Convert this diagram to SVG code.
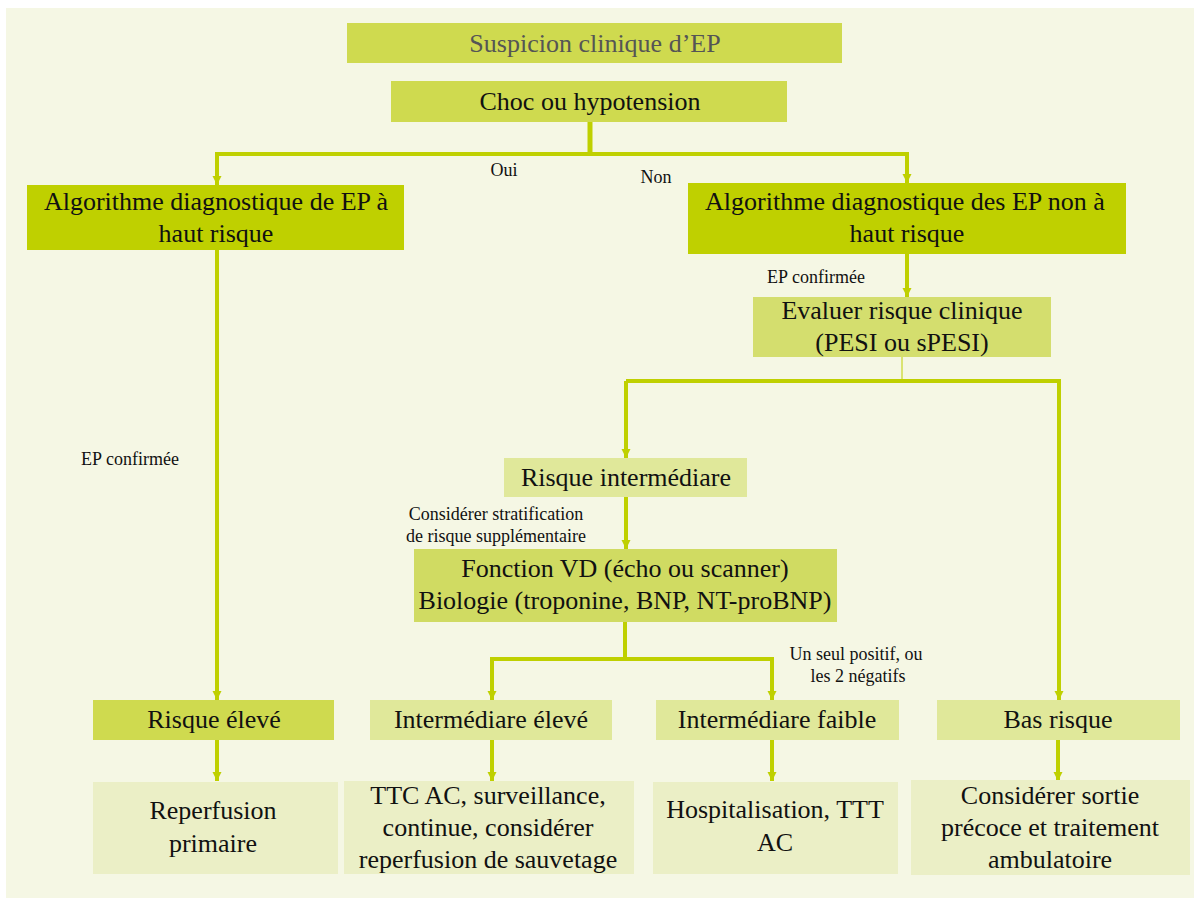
<svg xmlns="http://www.w3.org/2000/svg" width="1201" height="898" viewBox="0 0 1201 898">
<style>
text{font-family:'Liberation Serif','Times New Roman','DejaVu Serif',serif;fill:#111;text-anchor:middle}
.t{font-size:26px}
.s{font-size:18px}
.c{fill:none;stroke:#BFD000;stroke-width:4}
.thin{fill:none;stroke:#BFD000;stroke-width:1}
.dark{fill:#BFD000}
.mid{fill:#CFDA4F}
.mid2{fill:#D4DE6E}
.light{fill:#E0E89A}
.pale{fill:#EBEFC6}
</style>
<defs>
<marker id="a" markerWidth="9" markerHeight="11" refX="9" refY="4.5" orient="auto" markerUnits="userSpaceOnUse">
<path d="M0,0 L9,4.5 L0,9 Z" fill="#BFD000"/>
</marker>
</defs>
<rect x="6" y="8" width="1188" height="890" fill="#F5F7E4"/>
<g id="connectors">
<path class="c" d="M590,122 V154" style="stroke-width:5"/>
<path class="c" d="M217,184 V154 H907 V183" marker-end="url(#a)"/>
<path class="c" d="M217,154 V185" marker-end="url(#a)"/>
<path class="c" d="M217,250 V700" marker-end="url(#a)"/>
<path class="c" d="M907,254 V297" marker-end="url(#a)"/>
<path class="thin" d="M902,357 V381"/>
<path class="c" d="M626,381 H1059 V700" marker-end="url(#a)"/>
<path class="c" d="M626,381 V458" marker-end="url(#a)"/>
<path class="c" d="M626,497 V549" marker-end="url(#a)"/>
<path class="c" d="M625,622 V659"/>
<path class="c" d="M492,700 V659 H772 V700" marker-end="url(#a)"/>
<path class="c" d="M492,659 V700" marker-end="url(#a)"/>
<path class="c" d="M217,740 V781" marker-end="url(#a)"/>
<path class="c" d="M492,740 V781" marker-end="url(#a)"/>
<path class="c" d="M772,740 V781" marker-end="url(#a)"/>
<path class="c" d="M1058,740 V781" marker-end="url(#a)"/>
<text class="s" x="504" y="176">Oui</text>
<text class="s" x="656" y="183">Non</text>
<text class="s" x="816" y="283">EP confirmée</text>
<text class="s" x="130" y="465">EP confirmée</text>
<text class="s" x="496" y="520">Considérer stratification</text>
<text class="s" x="496" y="542">de risque supplémentaire</text>
<text class="s" x="856" y="660">Un seul positif, ou</text>
<text class="s" x="858" y="682">les 2 négatifs</text>
</g>
<g id="suspicion"><rect class="mid" x="347" y="23" width="495" height="40"/><text class="t" x="595" y="52" style="fill:#555">Suspicion clinique d’EP</text></g>
<g id="choc"><rect class="mid" x="391" y="81" width="396" height="41"/><text class="t" x="590" y="110">Choc ou hypotension</text></g>
<g id="algo-haut"><rect class="dark" x="27" y="185" width="377" height="65"/><text class="t" x="216" y="210">Algorithme diagnostique de EP à</text><text class="t" x="216" y="242">haut risque</text></g>
<g id="algo-non-haut"><rect class="dark" x="688" y="183" width="438" height="71"/><text class="t" x="905" y="210">Algorithme diagnostique des EP non à</text><text class="t" x="907" y="242">haut risque</text></g>
<g id="evaluer"><rect class="mid2" x="753" y="297" width="298" height="60"/><text class="t" x="902" y="319">Evaluer risque clinique</text><text class="t" x="902" y="351">(PESI ou sPESI)</text></g>
<g id="risque-intermediare"><rect class="light" x="504" y="458" width="243" height="39"/><text class="t" x="626" y="486">Risque intermédiare</text></g>
<g id="fonction-vd"><rect x="414" y="549" width="423" height="73" fill="#D0DB62"/><text class="t" x="625" y="577">Fonction VD (écho ou scanner)</text><text class="t" x="625" y="609">Biologie (troponine, BNP, NT-proBNP)</text></g>
<g id="risque-eleve"><rect class="mid" x="93" y="700" width="241" height="40"/><text class="t" x="214" y="728">Risque élevé</text></g>
<g id="inter-eleve"><rect class="light" x="370" y="700" width="242" height="40"/><text class="t" x="491" y="728">Intermédiare élevé</text></g>
<g id="inter-faible"><rect class="light" x="656" y="700" width="243" height="40"/><text class="t" x="777" y="728">Intermédiare faible</text></g>
<g id="bas-risque"><rect class="light" x="937" y="700" width="243" height="40"/><text class="t" x="1058" y="728">Bas risque</text></g>
<g id="reperfusion"><rect class="pale" x="93" y="782" width="245" height="92"/><text class="t" x="213" y="819">Reperfusion</text><text class="t" x="213" y="852">primaire</text></g>
<g id="ttc"><rect class="pale" x="344" y="781" width="290" height="93"/><text class="t" x="488" y="804">TTC AC, surveillance,</text><text class="t" x="488" y="836">continue, considérer</text><text class="t" x="488" y="868">reperfusion de sauvetage</text></g>
<g id="hospitalisation"><rect class="pale" x="653" y="782" width="245" height="92"/><text class="t" x="775" y="818">Hospitalisation, TTT</text><text class="t" x="775" y="851">AC</text></g>
<g id="sortie"><rect class="pale" x="911" y="780" width="279" height="95"/><text class="t" x="1050" y="804">Considérer sortie</text><text class="t" x="1050" y="836">précoce et traitement</text><text class="t" x="1050" y="868">ambulatoire</text></g>
</svg>
